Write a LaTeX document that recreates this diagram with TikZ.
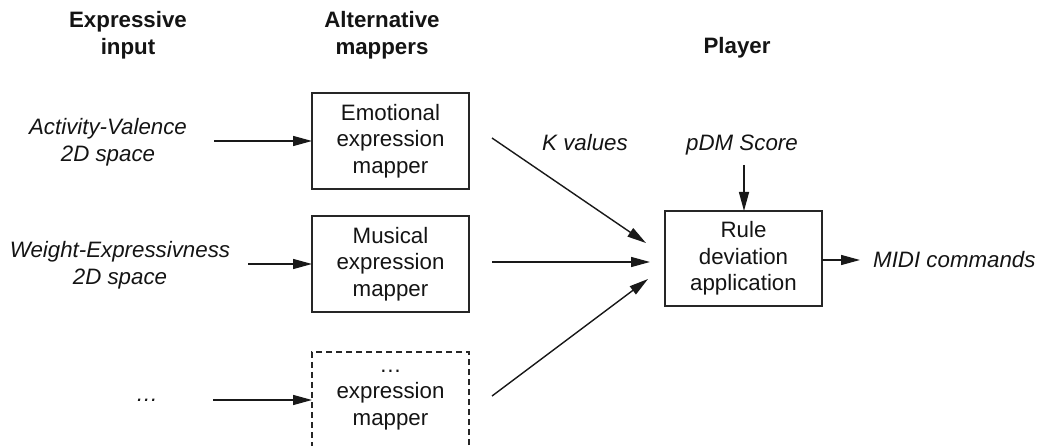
\documentclass[tikz,border=0pt]{standalone}
\usepackage{fontspec}
\setmainfont{Liberation Sans}
\usetikzlibrary{arrows.meta}
\begin{document}
\begin{tikzpicture}[x=1pt,y=-1pt,
  txt/.style={font=\fontsize{22.3}{26.5}\selectfont, align=center, inner sep=0pt, text=black!92},
  head/.style={txt, font=\fontsize{22.3}{26.5}\selectfont\bfseries},
  lbl/.style={txt, font=\fontsize{22.3}{26.5}\selectfont\itshape},
  mapbox/.style={txt, draw=black!85, line width=1.4pt, minimum width=157pt, minimum height=96pt, outer sep=0pt},
  ghostbox/.style={mapbox, dash pattern=on 6pt off 4pt},
  flow/.style={line width=1.4pt, draw=black!90, -{Triangle[length=19pt,width=10pt]}}
]
\clip (0,0) rectangle (1039,446);

% column headings
\node[head] (hin)  at (128,35) {Expressive\\input};
\node[head] (hmap) at (382,35) {Alternative\\mappers};
\node[head] (hpl)  at (737,48) {Player};

% expressive inputs
\node[lbl] (av) at (108,142) {Activity-Valence\\2D space};
\node[lbl] (we) at (120,265) {Weight-Expressivness\\2D space};
\node[lbl] (dt) at (147,400) {…};

% mappers
\node[mapbox]   (emo) at (390.5,141) {Emotional\\expression\\mapper};
\node[mapbox]   (mus) at (390.5,264) {Musical\\expression\\mapper};
\node[ghostbox] (gen) at (390.5,400) {…\\expression\\mapper};

% player
\node[mapbox, minimum height=95pt] (rule) at (743.5,258.5) {Rule\\deviation\\application};
\node[lbl] (kv)   at (585,143) {K values};
\node[lbl] (pdm)  at (742,145) {pDM Score};
\node[lbl, anchor=west] (midi) at (873,260) {MIDI commands};

% free arrow ends
\coordinate (a1) at (214,141);
\coordinate (a2) at (248,264);
\coordinate (a3) at (213,400);
\coordinate (s1) at (492,138);
\coordinate (e1) at (646,243);
\coordinate (s2) at (492,262);
\coordinate (e2) at (650,262);
\coordinate (s3) at (492,396);
\coordinate (e3) at (648,279);
\coordinate (p1) at (744,165);
\coordinate (m1) at (860,260);

% connectors
\draw[flow] (a1) -- (emo);
\draw[flow] (a2) -- (mus);
\draw[flow] (a3) -- (gen);
\draw[flow] (s1) -- (e1);
\draw[flow] (s2) -- (e2);
\draw[flow] (s3) -- (e3);
\draw[flow] (p1) -- (p1 |- rule.north);
\draw[flow] (rule.east |- m1) -- (m1);
\end{tikzpicture}
\end{document}
